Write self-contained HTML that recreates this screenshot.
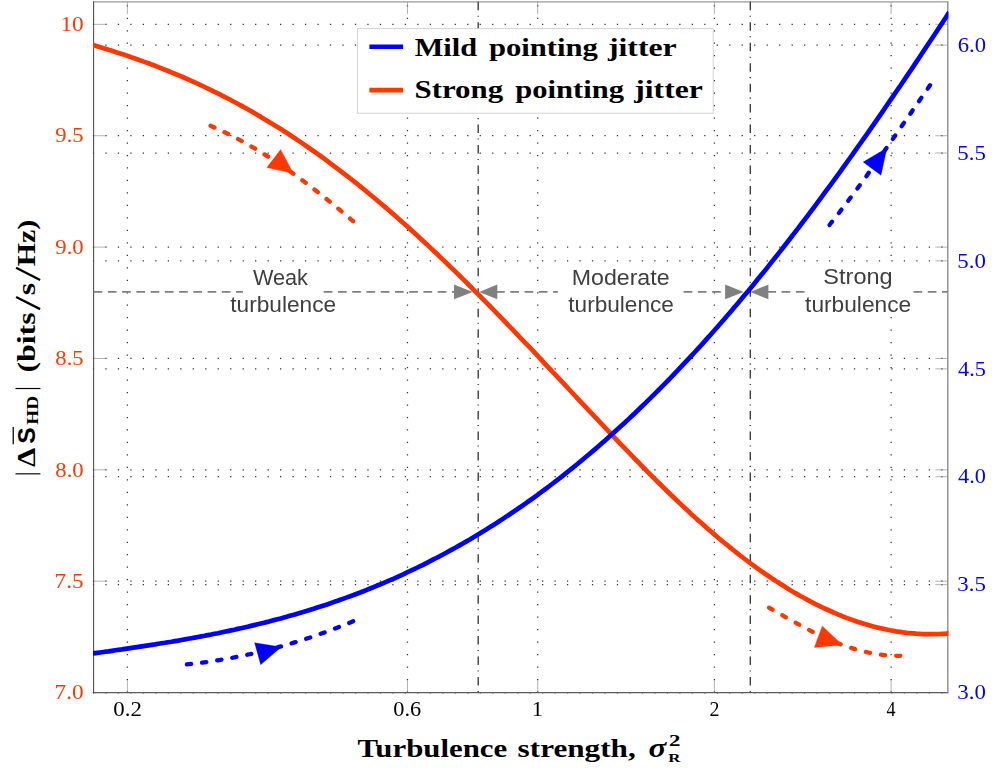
<!DOCTYPE html>
<html><head><meta charset="utf-8"><title>chart</title>
<style>html,body{margin:0;padding:0;background:#ffffff;}svg{display:block;}text{font-family:"Liberation Serif",serif;}.sans{font-family:"Liberation Sans",sans-serif;}</style></head><body>
<svg width="998" height="773" viewBox="0 0 998 773">
<rect x="0" y="0" width="998" height="773" fill="#ffffff"/>
<g id="grid">
<line x1="127.40" y1="692.61" x2="127.40" y2="1.80" stroke="#303030" stroke-width="1.25" stroke-dasharray="1.25 11.226"/>
<line x1="407.47" y1="692.61" x2="407.47" y2="1.80" stroke="#303030" stroke-width="1.25" stroke-dasharray="1.25 11.226"/>
<line x1="537.70" y1="692.61" x2="537.70" y2="1.80" stroke="#303030" stroke-width="1.25" stroke-dasharray="1.25 11.226"/>
<line x1="714.40" y1="692.61" x2="714.40" y2="1.80" stroke="#303030" stroke-width="1.25" stroke-dasharray="1.25 11.226"/>
<line x1="891.11" y1="692.61" x2="891.11" y2="1.80" stroke="#303030" stroke-width="1.25" stroke-dasharray="1.25 11.226"/>
<line x1="92.88" y1="24.35" x2="947.80" y2="24.35" stroke="#303030" stroke-width="1.25" stroke-dasharray="1.25 11.226"/>
<line x1="92.88" y1="135.72" x2="947.80" y2="135.72" stroke="#303030" stroke-width="1.25" stroke-dasharray="1.25 11.226"/>
<line x1="92.88" y1="247.09" x2="947.80" y2="247.09" stroke="#303030" stroke-width="1.25" stroke-dasharray="1.25 11.226"/>
<line x1="92.88" y1="358.46" x2="947.80" y2="358.46" stroke="#303030" stroke-width="1.25" stroke-dasharray="1.25 11.226"/>
<line x1="92.88" y1="469.83" x2="947.80" y2="469.83" stroke="#303030" stroke-width="1.25" stroke-dasharray="1.25 11.226"/>
<line x1="92.88" y1="581.20" x2="947.80" y2="581.20" stroke="#303030" stroke-width="1.25" stroke-dasharray="1.25 11.226"/>
<line x1="92.88" y1="692.57" x2="947.80" y2="692.57" stroke="#303030" stroke-width="1.25" stroke-dasharray="1.25 11.226"/>
<line x1="92.88" y1="45.10" x2="947.80" y2="45.10" stroke="#303030" stroke-width="1.25" stroke-dasharray="1.25 11.226"/>
<line x1="92.88" y1="153.01" x2="947.80" y2="153.01" stroke="#303030" stroke-width="1.25" stroke-dasharray="1.25 11.226"/>
<line x1="92.88" y1="260.92" x2="947.80" y2="260.92" stroke="#303030" stroke-width="1.25" stroke-dasharray="1.25 11.226"/>
<line x1="92.88" y1="368.83" x2="947.80" y2="368.83" stroke="#303030" stroke-width="1.25" stroke-dasharray="1.25 11.226"/>
<line x1="92.88" y1="476.74" x2="947.80" y2="476.74" stroke="#303030" stroke-width="1.25" stroke-dasharray="1.25 11.226"/>
<line x1="92.88" y1="584.65" x2="947.80" y2="584.65" stroke="#303030" stroke-width="1.25" stroke-dasharray="1.25 11.226"/>
<line x1="92.88" y1="692.56" x2="947.80" y2="692.56" stroke="#303030" stroke-width="1.25" stroke-dasharray="1.25 11.226"/>
</g>
<g id="ticks">
<line x1="127.40" y1="692.55" x2="127.40" y2="680.15" stroke="#7f7f7f" stroke-width="0.6" />
<line x1="127.40" y1="1.80" x2="127.40" y2="14.20" stroke="#7f7f7f" stroke-width="0.6" />
<line x1="407.47" y1="692.55" x2="407.47" y2="680.15" stroke="#7f7f7f" stroke-width="0.6" />
<line x1="407.47" y1="1.80" x2="407.47" y2="14.20" stroke="#7f7f7f" stroke-width="0.6" />
<line x1="537.70" y1="692.55" x2="537.70" y2="680.15" stroke="#7f7f7f" stroke-width="0.6" />
<line x1="537.70" y1="1.80" x2="537.70" y2="14.20" stroke="#7f7f7f" stroke-width="0.6" />
<line x1="714.40" y1="692.55" x2="714.40" y2="680.15" stroke="#7f7f7f" stroke-width="0.6" />
<line x1="714.40" y1="1.80" x2="714.40" y2="14.20" stroke="#7f7f7f" stroke-width="0.6" />
<line x1="891.11" y1="692.55" x2="891.11" y2="680.15" stroke="#7f7f7f" stroke-width="0.6" />
<line x1="891.11" y1="1.80" x2="891.11" y2="14.20" stroke="#7f7f7f" stroke-width="0.6" />
<line x1="93.60" y1="24.35" x2="106.00" y2="24.35" stroke="#7f7f7f" stroke-width="0.6" />
<line x1="947.80" y1="24.35" x2="935.40" y2="24.35" stroke="#7f7f7f" stroke-width="0.6" />
<line x1="93.60" y1="135.72" x2="106.00" y2="135.72" stroke="#7f7f7f" stroke-width="0.6" />
<line x1="947.80" y1="135.72" x2="935.40" y2="135.72" stroke="#7f7f7f" stroke-width="0.6" />
<line x1="93.60" y1="247.09" x2="106.00" y2="247.09" stroke="#7f7f7f" stroke-width="0.6" />
<line x1="947.80" y1="247.09" x2="935.40" y2="247.09" stroke="#7f7f7f" stroke-width="0.6" />
<line x1="93.60" y1="358.46" x2="106.00" y2="358.46" stroke="#7f7f7f" stroke-width="0.6" />
<line x1="947.80" y1="358.46" x2="935.40" y2="358.46" stroke="#7f7f7f" stroke-width="0.6" />
<line x1="93.60" y1="469.83" x2="106.00" y2="469.83" stroke="#7f7f7f" stroke-width="0.6" />
<line x1="947.80" y1="469.83" x2="935.40" y2="469.83" stroke="#7f7f7f" stroke-width="0.6" />
<line x1="93.60" y1="581.20" x2="106.00" y2="581.20" stroke="#7f7f7f" stroke-width="0.6" />
<line x1="947.80" y1="581.20" x2="935.40" y2="581.20" stroke="#7f7f7f" stroke-width="0.6" />
<line x1="93.60" y1="692.57" x2="106.00" y2="692.57" stroke="#7f7f7f" stroke-width="0.6" />
<line x1="947.80" y1="692.57" x2="935.40" y2="692.57" stroke="#7f7f7f" stroke-width="0.6" />
<line x1="947.80" y1="45.10" x2="935.40" y2="45.10" stroke="#7f7f7f" stroke-width="0.6" />
<line x1="947.80" y1="153.01" x2="935.40" y2="153.01" stroke="#7f7f7f" stroke-width="0.6" />
<line x1="947.80" y1="260.92" x2="935.40" y2="260.92" stroke="#7f7f7f" stroke-width="0.6" />
<line x1="947.80" y1="368.83" x2="935.40" y2="368.83" stroke="#7f7f7f" stroke-width="0.6" />
<line x1="947.80" y1="476.74" x2="935.40" y2="476.74" stroke="#7f7f7f" stroke-width="0.6" />
<line x1="947.80" y1="584.65" x2="935.40" y2="584.65" stroke="#7f7f7f" stroke-width="0.6" />
<line x1="947.80" y1="692.56" x2="935.40" y2="692.56" stroke="#7f7f7f" stroke-width="0.6" />
</g>
<g id="frame">
<line x1="93.60" y1="1.80" x2="947.80" y2="1.80" stroke="#9a9a9a" stroke-width="1.2" />
<line x1="93.60" y1="692.55" x2="948.30" y2="692.55" stroke="#5c5c5c" stroke-width="1.2" />
<line x1="93.60" y1="1.30" x2="93.60" y2="693.15" stroke="#505050" stroke-width="1.1" />
<line x1="947.80" y1="1.30" x2="947.80" y2="693.15" stroke="#858585" stroke-width="1.3" />
</g>
<line x1="478.20" y1="1.80" x2="478.20" y2="692.55" stroke="#404040" stroke-width="1.4" stroke-dasharray="8.5 5.43 1.1 5.43"/>
<line x1="750.30" y1="1.80" x2="750.30" y2="692.55" stroke="#404040" stroke-width="1.4" stroke-dasharray="8.5 5.43 1.1 5.43"/>
<g id="sep">
<line x1="93.60" y1="291.9" x2="242.90" y2="291.9" stroke="#808080" stroke-width="1.66" stroke-dasharray="8.7 5.55" stroke-dashoffset="0.00"/>
<line x1="323.70" y1="291.9" x2="456.00" y2="291.9" stroke="#808080" stroke-width="1.66" stroke-dasharray="8.7 5.55" stroke-dashoffset="0.00"/>
<line x1="496.10" y1="291.9" x2="557.80" y2="291.9" stroke="#808080" stroke-width="1.66" stroke-dasharray="8.7 5.55" stroke-dashoffset="0.05"/>
<line x1="683.60" y1="291.9" x2="727.00" y2="291.9" stroke="#808080" stroke-width="1.66" stroke-dasharray="8.7 5.55" stroke-dashoffset="0.00"/>
<line x1="767.40" y1="291.9" x2="804.70" y2="291.9" stroke="#808080" stroke-width="1.66" stroke-dasharray="8.7 5.55" stroke-dashoffset="0.05"/>
<line x1="913.50" y1="291.9" x2="947.60" y2="291.9" stroke="#808080" stroke-width="1.66" stroke-dasharray="8.7 5.55" stroke-dashoffset="0.00"/>
<polygon points="454.0,284.5 454.0,299.3 472.8,291.9" fill="#808080"/>
<polygon points="497.3,284.5 497.3,299.3 479.3,291.9" fill="#808080"/>
<polygon points="725.1,284.5 725.1,299.3 743.6,291.9" fill="#808080"/>
<polygon points="768.4,284.5 768.4,299.3 750.4,291.9" fill="#808080"/>
</g>
<clipPath id="box"><rect x="93.0" y="1.2000000000000002" width="855.40" height="691.95"/></clipPath>
<g clip-path="url(#box)">
<path d="M92.1,44.7 L95.4,45.7 L98.7,46.7 L102.0,47.7 L105.3,48.7 L108.6,49.8 L112.0,50.8 L115.3,51.9 L118.6,52.9 L121.9,54.0 L125.2,55.1 L128.5,56.2 L131.8,57.4 L135.1,58.5 L138.4,59.7 L141.7,60.9 L145.1,62.1 L148.4,63.3 L151.7,64.5 L155.0,65.8 L158.3,67.1 L161.6,68.4 L164.9,69.7 L168.2,71.0 L171.5,72.4 L174.8,73.7 L178.2,75.1 L181.5,76.5 L184.8,78.0 L188.1,79.4 L191.4,80.9 L194.7,82.4 L198.0,83.9 L201.3,85.4 L204.6,87.0 L207.9,88.6 L211.2,90.2 L214.6,91.8 L217.9,93.4 L221.2,95.1 L224.5,96.8 L227.8,98.5 L231.1,100.2 L234.4,102.0 L237.7,103.8 L241.0,105.6 L244.3,107.4 L247.7,109.3 L251.0,111.1 L254.3,113.0 L257.6,115.0 L260.9,116.9 L264.2,118.9 L267.5,120.9 L270.8,122.9 L274.1,124.9 L277.4,127.0 L280.8,129.1 L284.1,131.2 L287.4,133.3 L290.7,135.5 L294.0,137.7 L297.3,139.9 L300.6,142.1 L303.9,144.4 L307.2,146.7 L310.5,149.0 L313.8,151.3 L317.2,153.6 L320.5,156.0 L323.8,158.4 L327.1,160.8 L330.4,163.3 L333.7,165.8 L337.0,168.3 L340.3,170.8 L343.6,173.3 L346.9,175.9 L350.3,178.5 L353.6,181.1 L356.9,183.7 L360.2,186.4 L363.5,189.0 L366.8,191.8 L370.1,194.5 L373.4,197.2 L376.7,200.0 L380.0,202.8 L383.3,205.6 L386.7,208.4 L390.0,211.3 L393.3,214.1 L396.6,217.0 L399.9,220.0 L403.2,222.9 L406.5,225.8 L409.8,228.8 L413.1,231.8 L416.4,234.8 L419.8,237.9 L423.1,240.9 L426.4,244.0 L429.7,247.1 L433.0,250.2 L436.3,253.3 L439.6,256.5 L442.9,259.6 L446.2,262.8 L449.5,266.0 L452.9,269.2 L456.2,272.4 L459.5,275.7 L462.8,278.9 L466.1,282.2 L469.4,285.5 L472.7,288.8 L476.0,292.1 L479.3,295.4 L482.6,298.8 L485.9,302.1 L489.3,305.5 L492.6,308.9 L495.9,312.3 L499.2,315.7 L502.5,319.1 L505.8,322.5 L509.1,326.0 L512.4,329.4 L515.7,332.9 L519.0,336.3 L522.4,339.8 L525.7,343.3 L529.0,346.7 L532.3,350.2 L535.6,353.7 L538.9,357.2 L542.2,360.8 L545.5,364.3 L548.8,367.8 L552.1,371.3 L555.5,374.8 L558.8,378.4 L562.1,381.9 L565.4,385.4 L568.7,389.0 L572.0,392.5 L575.3,396.0 L578.6,399.6 L581.9,403.1 L585.2,406.6 L588.5,410.1 L591.9,413.7 L595.2,417.2 L598.5,420.7 L601.8,424.2 L605.1,427.7 L608.4,431.2 L611.7,434.7 L615.0,438.2 L618.3,441.6 L621.6,445.1 L625.0,448.5 L628.3,452.0 L631.6,455.4 L634.9,458.8 L638.2,462.2 L641.5,465.6 L644.8,468.9 L648.1,472.3 L651.4,475.6 L654.7,478.9 L658.1,482.2 L661.4,485.5 L664.7,488.7 L668.0,492.0 L671.3,495.2 L674.6,498.3 L677.9,501.5 L681.2,504.6 L684.5,507.7 L687.8,510.8 L691.1,513.9 L694.5,516.9 L697.8,519.9 L701.1,522.8 L704.4,525.8 L707.7,528.7 L711.0,531.6 L714.3,534.4 L717.6,537.2 L720.9,540.0 L724.2,542.7 L727.6,545.4 L730.9,548.1 L734.2,550.8 L737.5,553.4 L740.8,556.0 L744.1,558.5 L747.4,561.0 L750.7,563.5 L754.0,565.9 L757.3,568.3 L760.6,570.7 L764.0,573.0 L767.3,575.3 L770.6,577.5 L773.9,579.7 L777.2,581.9 L780.5,584.0 L783.8,586.1 L787.1,588.2 L790.4,590.2 L793.7,592.2 L797.1,594.1 L800.4,596.0 L803.7,597.8 L807.0,599.6 L810.3,601.4 L813.6,603.1 L816.9,604.8 L820.2,606.4 L823.5,608.0 L826.8,609.5 L830.2,611.0 L833.5,612.5 L836.8,613.9 L840.1,615.3 L843.4,616.6 L846.7,617.9 L850.0,619.1 L853.3,620.3 L856.6,621.4 L859.9,622.5 L863.2,623.6 L866.6,624.6 L869.9,625.5 L873.2,626.4 L876.5,627.3 L879.8,628.1 L883.1,628.8 L886.4,629.5 L889.7,630.2 L893.0,630.8 L896.3,631.4 L899.7,631.9 L903.0,632.4 L906.3,632.8 L909.6,633.1 L912.9,633.4 L916.2,633.7 L919.5,633.9 L922.8,634.1 L926.1,634.2 L929.4,634.2 L932.8,634.2 L936.1,634.1 L939.4,634.0 L942.7,633.8 L946.0,633.6 L949.3,633.3" fill="none" stroke="#ff3700" stroke-width="4.7" stroke-linejoin="round"/>
<path d="M92.1,653.6 L95.4,653.1 L98.7,652.7 L102.0,652.2 L105.3,651.7 L108.6,651.3 L112.0,650.8 L115.3,650.3 L118.6,649.8 L121.9,649.4 L125.2,648.9 L128.5,648.4 L131.8,647.9 L135.1,647.4 L138.4,646.9 L141.7,646.4 L145.1,645.9 L148.4,645.4 L151.7,644.9 L155.0,644.4 L158.3,643.8 L161.6,643.3 L164.9,642.8 L168.2,642.2 L171.5,641.7 L174.8,641.1 L178.2,640.6 L181.5,640.0 L184.8,639.4 L188.1,638.8 L191.4,638.2 L194.7,637.6 L198.0,637.0 L201.3,636.4 L204.6,635.8 L207.9,635.1 L211.2,634.5 L214.6,633.8 L217.9,633.2 L221.2,632.5 L224.5,631.8 L227.8,631.1 L231.1,630.4 L234.4,629.7 L237.7,628.9 L241.0,628.2 L244.3,627.5 L247.7,626.7 L251.0,625.9 L254.3,625.1 L257.6,624.3 L260.9,623.5 L264.2,622.7 L267.5,621.9 L270.8,621.0 L274.1,620.1 L277.4,619.3 L280.8,618.4 L284.1,617.5 L287.4,616.6 L290.7,615.6 L294.0,614.7 L297.3,613.7 L300.6,612.7 L303.9,611.8 L307.2,610.8 L310.5,609.7 L313.8,608.7 L317.2,607.6 L320.5,606.6 L323.8,605.5 L327.1,604.4 L330.4,603.3 L333.7,602.1 L337.0,601.0 L340.3,599.8 L343.6,598.6 L346.9,597.4 L350.3,596.2 L353.6,595.0 L356.9,593.7 L360.2,592.5 L363.5,591.2 L366.8,589.9 L370.1,588.5 L373.4,587.2 L376.7,585.8 L380.0,584.5 L383.3,583.1 L386.7,581.7 L390.0,580.2 L393.3,578.8 L396.6,577.3 L399.9,575.8 L403.2,574.3 L406.5,572.7 L409.8,571.2 L413.1,569.6 L416.4,568.0 L419.8,566.4 L423.1,564.8 L426.4,563.1 L429.7,561.4 L433.0,559.7 L436.3,558.0 L439.6,556.3 L442.9,554.5 L446.2,552.7 L449.5,550.9 L452.9,549.1 L456.2,547.3 L459.5,545.4 L462.8,543.5 L466.1,541.6 L469.4,539.7 L472.7,537.7 L476.0,535.7 L479.3,533.8 L482.6,531.7 L485.9,529.7 L489.3,527.6 L492.6,525.5 L495.9,523.4 L499.2,521.3 L502.5,519.1 L505.8,516.9 L509.1,514.7 L512.4,512.5 L515.7,510.3 L519.0,508.0 L522.4,505.7 L525.7,503.4 L529.0,501.0 L532.3,498.7 L535.6,496.3 L538.9,493.9 L542.2,491.4 L545.5,489.0 L548.8,486.5 L552.1,484.0 L555.5,481.4 L558.8,478.9 L562.1,476.3 L565.4,473.7 L568.7,471.0 L572.0,468.4 L575.3,465.7 L578.6,463.0 L581.9,460.3 L585.2,457.5 L588.5,454.7 L591.9,451.9 L595.2,449.1 L598.5,446.2 L601.8,443.3 L605.1,440.4 L608.4,437.5 L611.7,434.6 L615.0,431.6 L618.3,428.6 L621.6,425.5 L625.0,422.5 L628.3,419.4 L631.6,416.3 L634.9,413.2 L638.2,410.0 L641.5,406.8 L644.8,403.6 L648.1,400.4 L651.4,397.1 L654.7,393.8 L658.1,390.5 L661.4,387.2 L664.7,383.8 L668.0,380.5 L671.3,377.1 L674.6,373.6 L677.9,370.2 L681.2,366.7 L684.5,363.2 L687.8,359.6 L691.1,356.1 L694.5,352.5 L697.8,348.9 L701.1,345.3 L704.4,341.6 L707.7,337.9 L711.0,334.2 L714.3,330.5 L717.6,326.7 L720.9,323.0 L724.2,319.2 L727.6,315.3 L730.9,311.5 L734.2,307.6 L737.5,303.7 L740.8,299.8 L744.1,295.8 L747.4,291.9 L750.7,287.9 L754.0,283.9 L757.3,279.8 L760.6,275.8 L764.0,271.7 L767.3,267.6 L770.6,263.4 L773.9,259.3 L777.2,255.1 L780.5,250.9 L783.8,246.7 L787.1,242.5 L790.4,238.2 L793.7,233.9 L797.1,229.6 L800.4,225.3 L803.7,220.9 L807.0,216.6 L810.3,212.2 L813.6,207.8 L816.9,203.4 L820.2,198.9 L823.5,194.4 L826.8,189.9 L830.2,185.4 L833.5,180.9 L836.8,176.4 L840.1,171.8 L843.4,167.2 L846.7,162.6 L850.0,158.0 L853.3,153.4 L856.6,148.7 L859.9,144.0 L863.2,139.3 L866.6,134.6 L869.9,129.9 L873.2,125.2 L876.5,120.4 L879.8,115.6 L883.1,110.8 L886.4,106.0 L889.7,101.2 L893.0,96.4 L896.3,91.5 L899.7,86.7 L903.0,81.8 L906.3,76.9 L909.6,72.0 L912.9,67.1 L916.2,62.1 L919.5,57.2 L922.8,52.2 L926.1,47.2 L929.4,42.3 L932.8,37.3 L936.1,32.3 L939.4,27.2 L942.7,22.2 L946.0,17.2 L949.3,12.1" fill="none" stroke="#0000ff" stroke-width="4.7" stroke-linejoin="round"/>
</g>
<g id="arrows">
<path d="M210.59,125.79 L212.61,126.67 L214.61,127.56 L216.61,128.47 L218.60,129.38 L220.58,130.31 L222.56,131.24 L224.53,132.19 L226.49,133.15 L228.45,134.12 L230.40,135.10 L232.35,136.09 L234.28,137.09 L236.22,138.10 L238.14,139.12 L240.06,140.15 L241.98,141.19 L243.89,142.23 L245.79,143.29 L247.69,144.36 L249.58,145.44 L251.47,146.53 L253.35,147.62 L255.22,148.73 L257.09,149.84 L258.95,150.96 L260.81,152.09 L262.66,153.23 L264.51,154.38 L266.35,155.54 L268.19,156.70 L270.02,157.87 L271.85,159.05 L273.67,160.24 L275.49,161.44 L277.30,162.64 L279.11,163.85 L280.91,165.07 L282.71,166.29 L284.50,167.52 L286.29,168.76 L288.08,170.01 L289.86,171.26 L291.63,172.52 L293.40,173.79 L295.17,175.06 L296.93,176.33 L298.69,177.62 L300.45,178.91 L302.20,180.20 L303.94,181.51 L305.68,182.81 L307.42,184.13 L309.16,185.44 L310.89,186.77 L312.62,188.09 L314.34,189.43 L316.06,190.77 L317.78,192.11 L319.49,193.46 L321.20,194.81 L322.90,196.17 L324.61,197.53 L326.31,198.89 L328.00,200.26 L329.70,201.64 L331.39,203.01 L333.07,204.39 L334.76,205.78 L336.44,207.17 L338.12,208.56 L339.79,209.95 L341.47,211.35 L343.14,212.75 L344.80,214.15 L346.47,215.56 L348.13,216.97 L349.79,218.38 L351.45,219.79 L353.11,221.21" fill="none" stroke="#ff3700" stroke-width="4.3" stroke-linecap="round" stroke-dasharray="4.2 11.08"/>
<polygon points="293.4,173.4 280.6,149.5 266.8,167.6" fill="#ff3700" stroke="#ff3700" stroke-width="0.3" stroke-linejoin="round"/>
<path d="M829.48,224.99 L830.84,223.28 L832.19,221.56 L833.54,219.85 L834.89,218.13 L836.24,216.41 L837.58,214.69 L838.92,212.96 L840.25,211.23 L841.59,209.50 L842.91,207.77 L844.24,206.03 L845.56,204.30 L846.88,202.56 L848.20,200.82 L849.51,199.07 L850.83,197.33 L852.13,195.58 L853.44,193.83 L854.74,192.08 L856.04,190.33 L857.34,188.57 L858.64,186.81 L859.93,185.06 L861.22,183.30 L862.51,181.53 L863.80,179.77 L865.08,178.01 L866.36,176.24 L867.64,174.47 L868.92,172.70 L870.20,170.93 L871.47,169.16 L872.74,167.38 L874.01,165.61 L875.28,163.83 L876.55,162.06 L877.81,160.28 L879.08,158.50 L880.34,156.72 L881.60,154.93 L882.86,153.15 L884.12,151.37 L885.37,149.58 L886.63,147.80 L887.88,146.01 L889.13,144.22 L890.39,142.44 L891.64,140.65 L892.89,138.86 L894.14,137.07 L895.38,135.28 L896.63,133.48 L897.88,131.69 L899.12,129.90 L900.37,128.11 L901.61,126.31 L902.86,124.52 L904.10,122.73 L905.34,120.93 L906.59,119.14 L907.83,117.34 L909.07,115.55 L910.31,113.75 L911.56,111.96 L912.80,110.16 L914.04,108.36 L915.28,106.57 L916.52,104.77 L917.77,102.98 L919.01,101.18 L920.25,99.39 L921.49,97.59 L922.74,95.80 L923.98,94.01 L925.22,92.21 L926.47,90.42 L927.71,88.62 L928.96,86.83 L930.21,85.04" fill="none" stroke="#0000ff" stroke-width="4.3" stroke-linecap="round" stroke-dasharray="4.2 11.08"/>
<polygon points="886.9,148.1 863.1,162 881,175.3" fill="#0000ff" stroke="#0000ff" stroke-width="0.3" stroke-linejoin="round"/>
<path d="M186.93,664.41 L189.11,664.18 L191.29,663.94 L193.47,663.69 L195.65,663.43 L197.82,663.16 L200.00,662.89 L202.17,662.60 L204.34,662.31 L206.51,662.01 L208.67,661.70 L210.84,661.39 L213.00,661.06 L215.16,660.73 L217.32,660.38 L219.48,660.03 L221.64,659.67 L223.79,659.30 L225.95,658.93 L228.10,658.54 L230.24,658.15 L232.39,657.75 L234.54,657.34 L236.68,656.93 L238.82,656.50 L240.96,656.07 L243.10,655.63 L245.23,655.18 L247.37,654.72 L249.50,654.25 L251.63,653.78 L253.76,653.30 L255.89,652.81 L258.01,652.31 L260.13,651.80 L262.25,651.29 L264.37,650.77 L266.49,650.24 L268.60,649.70 L270.71,649.16 L272.82,648.61 L274.93,648.05 L277.04,647.48 L279.14,646.90 L281.24,646.32 L283.34,645.73 L285.44,645.13 L287.54,644.52 L289.63,643.91 L291.72,643.28 L293.81,642.65 L295.90,642.02 L297.99,641.37 L300.07,640.72 L302.15,640.06 L304.23,639.39 L306.31,638.72 L308.38,638.04 L310.45,637.35 L312.53,636.65 L314.59,635.95 L316.66,635.24 L318.72,634.52 L320.78,633.79 L322.84,633.06 L324.90,632.32 L326.96,631.57 L329.01,630.81 L331.06,630.05 L333.11,629.28 L335.15,628.51 L337.20,627.72 L339.24,626.93 L341.28,626.14 L343.31,625.33 L345.35,624.52 L347.38,623.70 L349.41,622.87 L351.44,622.04 L353.46,621.20" fill="none" stroke="#0000ff" stroke-width="4.3" stroke-linecap="round" stroke-dasharray="4.2 11.08"/>
<polygon points="281.3,647.0 254.6,642.8 260.7,664.7" fill="#0000ff" stroke="#0000ff" stroke-width="0.3" stroke-linejoin="round"/>
<path d="M768.98,607.64 L770.53,608.52 L772.07,609.40 L773.62,610.29 L775.17,611.18 L776.72,612.07 L778.27,612.95 L779.83,613.84 L781.38,614.73 L782.94,615.62 L784.50,616.51 L786.07,617.39 L787.63,618.28 L789.20,619.16 L790.77,620.04 L792.34,620.91 L793.91,621.79 L795.49,622.66 L797.07,623.53 L798.65,624.39 L800.24,625.25 L801.82,626.10 L803.41,626.95 L805.01,627.80 L806.60,628.63 L808.20,629.47 L809.80,630.29 L811.41,631.11 L813.01,631.92 L814.63,632.73 L816.24,633.52 L817.86,634.31 L819.48,635.09 L821.10,635.86 L822.73,636.62 L824.36,637.38 L826.00,638.12 L827.64,638.85 L829.28,639.57 L830.92,640.28 L832.58,640.98 L834.23,641.67 L835.89,642.35 L837.55,643.01 L839.22,643.66 L840.89,644.30 L842.56,644.93 L844.24,645.54 L845.92,646.14 L847.61,646.72 L849.30,647.29 L851.00,647.84 L852.70,648.38 L854.41,648.90 L856.12,649.41 L857.83,649.90 L859.55,650.37 L861.28,650.83 L863.01,651.27 L864.74,651.69 L866.48,652.09 L868.23,652.48 L869.98,652.85 L871.73,653.19 L873.49,653.52 L875.26,653.83 L877.03,654.12 L878.81,654.38 L880.59,654.63 L882.38,654.86 L884.17,655.06 L885.97,655.24 L887.78,655.40 L889.59,655.54 L891.40,655.65 L893.23,655.74 L895.05,655.81 L896.89,655.85 L898.73,655.87 L900.58,655.87" fill="none" stroke="#ff3700" stroke-width="4.3" stroke-linecap="round" stroke-dasharray="4.2 11.08"/>
<polygon points="842.4,645 822.3,626.1 814.3,647.4" fill="#ff3700" stroke="#ff3700" stroke-width="0.3" stroke-linejoin="round"/>
</g>
<g id="legend">
<rect x="357.4" y="28.6" width="355.8" height="84.6" fill="#ffffff" stroke="#cfcfcf" stroke-width="0.9"/>
<line x1="369.40" y1="46.80" x2="403.10" y2="46.80" stroke="#0000ff" stroke-width="4.6" />
<line x1="369.40" y1="90.10" x2="403.10" y2="90.10" stroke="#ff3700" stroke-width="4.6" />
</g>
<g id="legendtext" opacity="0.999">
<text transform="translate(414.63,55.70) scale(1.1868,1)" font-size="25.6" font-weight="bold" fill="#000">Mild</text>
<text transform="translate(488.90,55.70) scale(1.1981,1)" font-size="25.6" font-weight="bold" fill="#000">pointing</text>
<text transform="translate(607.90,55.70) scale(1.2417,1)" font-size="25.6" font-weight="bold" fill="#000">jitter</text>
<text transform="translate(414.45,98.40) scale(1.2075,1)" font-size="25.6" font-weight="bold" fill="#000">Strong</text>
<text transform="translate(515.30,98.40) scale(1.1937,1)" font-size="25.6" font-weight="bold" fill="#000">pointing</text>
<text transform="translate(634.29,98.40) scale(1.2363,1)" font-size="25.6" font-weight="bold" fill="#000">jitter</text>
</g>
<rect x="805.2" y="266" width="107.8" height="50.5" fill="#ffffff"/>
<rect x="562" y="266" width="118" height="50.5" fill="#ffffff"/>
<g id="labels" opacity="0.999">
<text class="sans" transform="translate(252.90,285.20) scale(1.0072,1)" font-size="21.5" fill="#3f3f3f">Weak</text>
<text class="sans" transform="translate(230.30,311.90) scale(1.0549,1)" font-size="21.5" fill="#3f3f3f">turbulence</text>
<text class="sans" transform="translate(571.69,285.40) scale(1.0784,1)" font-size="21.5" fill="#3f3f3f">Moderate</text>
<text class="sans" transform="translate(568.30,312.30) scale(1.0519,1)" font-size="21.5" fill="#3f3f3f">turbulence</text>
<text class="sans" transform="translate(823.37,283.70) scale(1.0933,1)" font-size="21.5" fill="#3f3f3f">Strong</text>
<text class="sans" transform="translate(805.10,312.30) scale(1.0569,1)" font-size="21.5" fill="#3f3f3f">turbulence</text>
</g>
<g id="ticklabels" opacity="0.999">
<text transform="translate(60.38,31.10) scale(1.1393,1)" font-size="20.4" fill="#ff3700">10</text>
<text transform="translate(55.35,142.47) scale(1.1081,1)" font-size="20.4" fill="#ff3700">9.5</text>
<text transform="translate(55.35,253.84) scale(1.1081,1)" font-size="20.4" fill="#ff3700">9.0</text>
<text transform="translate(55.35,365.21) scale(1.1081,1)" font-size="20.4" fill="#ff3700">8.5</text>
<text transform="translate(55.35,476.58) scale(1.1081,1)" font-size="20.4" fill="#ff3700">8.0</text>
<text transform="translate(54.61,587.95) scale(1.1381,1)" font-size="20.4" fill="#ff3700">7.5</text>
<text transform="translate(54.61,699.32) scale(1.1381,1)" font-size="20.4" fill="#ff3700">7.0</text>
<text transform="translate(957.69,51.85) scale(1.1081,1)" font-size="20.4" fill="#0000ff">6.0</text>
<text transform="translate(957.33,159.76) scale(1.1229,1)" font-size="20.4" fill="#0000ff">5.5</text>
<text transform="translate(957.33,267.67) scale(1.1229,1)" font-size="20.4" fill="#0000ff">5.0</text>
<text transform="translate(958.05,375.58) scale(1.0937,1)" font-size="20.4" fill="#0000ff">4.5</text>
<text transform="translate(958.05,483.49) scale(1.0937,1)" font-size="20.4" fill="#0000ff">4.0</text>
<text transform="translate(957.33,591.40) scale(1.1229,1)" font-size="20.4" fill="#0000ff">3.5</text>
<text transform="translate(957.33,699.31) scale(1.1229,1)" font-size="20.4" fill="#0000ff">3.0</text>
<text transform="translate(113.27,716.10) scale(1.1229,1)" font-size="20.4" fill="#000">0.2</text>
<text transform="translate(393.36,716.10) scale(1.0937,1)" font-size="20.4" fill="#000">0.6</text>
<text transform="translate(531.71,716.10) scale(1.1046,1)" font-size="20.4" fill="#000">1</text>
<text transform="translate(709.55,716.10) scale(0.9818,1)" font-size="20.4" fill="#000">2</text>
<text transform="translate(886.60,716.10) scale(0.8837,1)" font-size="20.4" fill="#000">4</text>
</g>
<g id="xlabel" opacity="0.999">
<text transform="translate(357.62,757.00) scale(1.1953,1)" font-size="25.8" font-weight="bold" fill="#000">Turbulence</text>
<text transform="translate(517.61,757.00) scale(1.2094,1)" font-size="25.8" font-weight="bold" fill="#000">strength,</text>
<text transform="translate(648.39,757.20) scale(1.2420,1)" font-size="26.5" font-weight="bold" font-style="italic" fill="#000">&#963;</text>
<text transform="translate(668.89,746.00) scale(1.4467,1)" font-size="15.8" font-weight="bold" fill="#000">2</text>
<text transform="translate(668.14,761.90) scale(1.4267,1)" font-size="11.8" font-weight="bold" fill="#000">R</text>
</g>
<g id="ylabel" opacity="0.999" transform="translate(34.5,474.4) rotate(-90)" fill="#000">
<rect x="0" y="-19.0" width="1.15" height="24.9" />
<text transform="translate(7.30,0.00) scale(1.1664,1)" font-size="26.2" font-weight="bold" fill="#000">&#916;</text>
<text class="sans" transform="translate(30.61,0.20) scale(1.0530,1)" font-size="23.4" font-weight="bold" fill="#000">S</text>
<rect x="30.1" y="-21.9" width="17.3" height="1.25" />
<text transform="translate(49.70,3.20) scale(1.2268,1)" font-size="15.8" font-weight="bold" fill="#000">HD</text>
<rect x="85.3" y="-19.0" width="1.15" height="24.9" />
<text transform="translate(101.81,0.00) scale(1.2340,1)" font-size="25.8" font-weight="bold" fill="#000">(bits</text>
<line x1="165.3" y1="5.6" x2="177.4" y2="-18.4" stroke="#000" stroke-width="2.3"/>
<text transform="translate(179.10,0.00) scale(1.2295,1)" font-size="25.8" font-weight="bold" fill="#000">s</text>
<line x1="194.3" y1="5.6" x2="206.6" y2="-18.4" stroke="#000" stroke-width="2.3"/>
<text transform="translate(208.13,0.00) scale(1.1605,1)" font-size="25.8" font-weight="bold" fill="#000">Hz)</text>
</g>
</svg></body></html>
